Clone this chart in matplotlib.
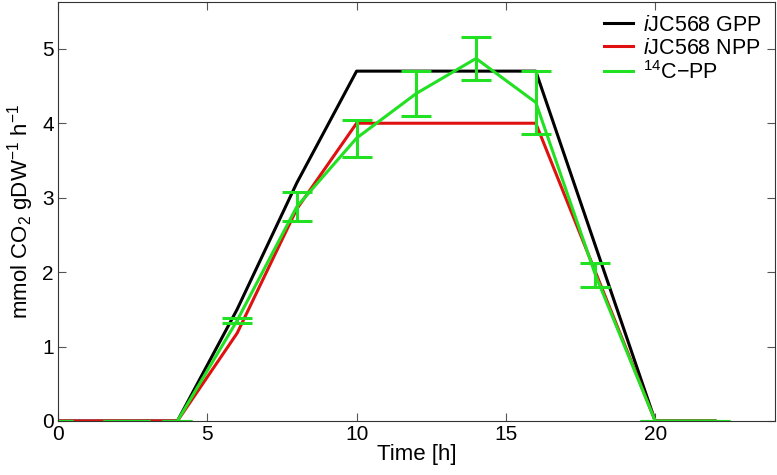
import matplotlib.pyplot as plt
from matplotlib.lines import Line2D
import numpy as np

plt.rcParams['font.family'] = ['Liberation Sans', 'DejaVu Sans']
plt.rcParams['mathtext.fontset'] = 'custom'
plt.rcParams['mathtext.rm'] = 'Liberation Sans'
plt.rcParams['mathtext.it'] = 'Liberation Sans:italic'

# model data
t_model = [0, 2, 4, 6, 8, 10, 12, 14, 16, 20, 22]
gpp = [0, 0, 0, 1.5, 3.2, 4.7, 4.7, 4.7, 4.7, 0, 0]
npp = [0, 0, 0, 1.18, 2.85, 4.0, 4.0, 4.0, 4.0, 0, 0]

# 14C measurements
t_pp = [4, 6, 8, 10, 12, 14, 16, 18, 20, 22]
pp = [0, 1.35, 2.88, 3.8, 4.4, 4.87, 4.28, 1.96, 0, 0]
pp_err = [0, 0.03, 0.19, 0.25, 0.3, 0.29, 0.42, 0.16, 0, 0]

# zero-valued caps before the light period
t_dark = [0, 2, 2.57]
pp_dark = [0, 0, 0]

labels = [r'$\it{i}$JC568 GPP', r'$\it{i}$JC568 NPP', r'$^{14}$C$-$PP']
green = '#22E022'
red = '#E01010'

fig = plt.figure(figsize=(7.77, 4.75), dpi=100)
ax = fig.add_axes([0.0746, 0.1137, 0.9224, 0.8823])

ax.plot(t_model, gpp, color='black', lw=2.2)
ax.plot(t_model, npp, color=red, lw=2.2)
ax.errorbar(t_pp, pp, yerr=pp_err, color=green, lw=2.2, capsize=10.8,
            capthick=2.2)
ax.errorbar(t_dark, pp_dark, yerr=[0, 0, 0], color=green, lw=0, elinewidth=2.2,
            capsize=10.8, capthick=2.2)

ax.set_xlim(0, 24)
ax.set_ylim(0, 5.63)
ax.set_xticks([0, 5, 10, 15, 20])
ax.set_yticks([0, 1, 2, 3, 4, 5])
ax.tick_params(direction='in', top=True, right=True, labelsize=15, length=6,
               width=0.8, color='#555555', pad=3)
for s in ax.spines.values():
    s.set_linewidth(0.8)
    s.set_color('#333333')

ax.set_xlabel('Time [h]', fontsize=16, labelpad=0)
ax.set_ylabel(r'mmol CO$_2$ gDW$^{-1}$ h$^{-1}$', fontsize=16, labelpad=4)

handles = [Line2D([], [], color=c, lw=2.2) for c in ['black', red, green]]
ax.legend(handles, labels, loc='upper right', frameon=False, fontsize=15.5,
          handlelength=1.35, handletextpad=0.45, labelspacing=0.1,
          borderaxespad=0.2)

plt.savefig('out.png', dpi=100)
